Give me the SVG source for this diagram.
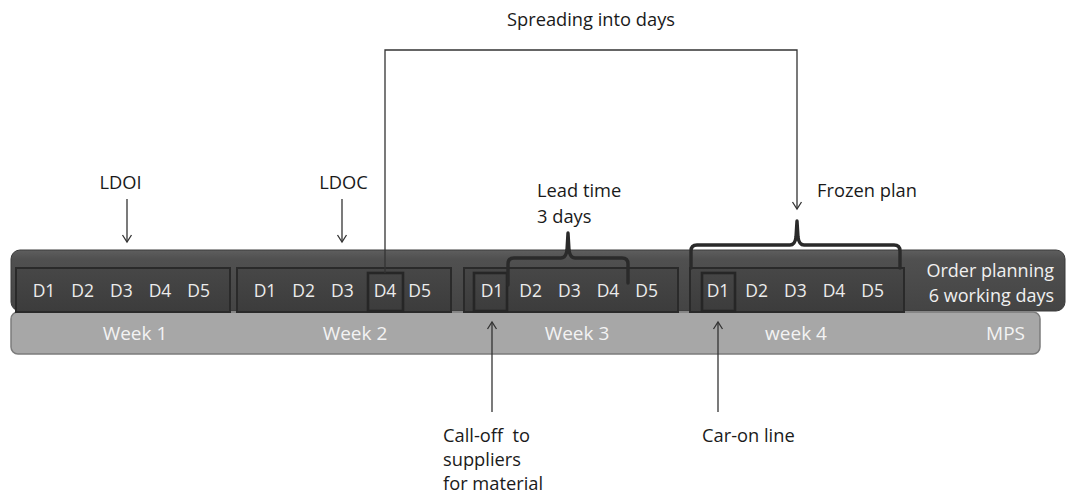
<svg xmlns="http://www.w3.org/2000/svg" width="1066" height="495" viewBox="0 0 1066 495">
  <defs>
    <linearGradient id="bandGrad" x1="0" y1="0" x2="0" y2="1">
      <stop offset="0" stop-color="#5e5e5e"/>
      <stop offset="0.15" stop-color="#505050"/>
      <stop offset="1" stop-color="#444444"/>
    </linearGradient>
    <linearGradient id="weekGrad" x1="0" y1="0" x2="0" y2="1">
      <stop offset="0" stop-color="#474747"/>
      <stop offset="1" stop-color="#3c3c3c"/>
    </linearGradient>
    <marker id="arrow" viewBox="-10 -6 12 12" refX="0" refY="0" markerWidth="12" markerHeight="12" markerUnits="userSpaceOnUse" orient="auto">
      <path d="M-7,-4.5 L0,0 L-7,4.5" fill="none" stroke="#333" stroke-width="1.3"/>
    </marker>
  </defs>
  <style>
    text { font-family: "Open Sans", "Liberation Sans", sans-serif; }
    .lbl { font-size: 18.3px; fill: #1a1a1a; }
    .day { font-size: 17.5px; fill: #ececec; text-anchor: middle; }
    .week { font-size: 19px; fill: #f3f3f3; text-anchor: middle; }
    .side { font-size: 18px; fill: #f0f0f0; text-anchor: end; }
    .wbox { fill: url(#weekGrad); stroke: #2a2a2a; stroke-width: 2; }
    .hl { fill: none; stroke: #262626; stroke-width: 2.6; }
    .brace { fill: none; stroke: #2a2a2a; stroke-width: 3.4; stroke-linejoin: round; stroke-linecap: round; }
    .conn { fill: none; stroke: #333; stroke-width: 1.3; }
  </style>

  <!-- background -->
  <rect width="1066" height="495" fill="#ffffff"/>

  <!-- order planning band -->
  <g id="order-planning">
    <rect x="11" y="250" width="1054" height="61" rx="9" fill="url(#bandGrad)" stroke="#3a3a3a" stroke-width="1"/>
    <text class="side" x="1054" y="277">Order planning</text>
    <text class="side" x="1054" y="302">6 working days</text>
  </g>

  <!-- MPS band -->
  <g id="mps">
    <rect x="11" y="312" width="1029" height="42" rx="7" fill="#a7a7a7" stroke="#7c7c7c" stroke-width="1.5"/>
    <text class="week" x="135" y="340">Week 1</text>
    <text class="week" x="355" y="340">Week 2</text>
    <text class="week" x="577" y="340">Week 3</text>
    <text class="week" x="796" y="340">week 4</text>
    <text class="week" x="1025" y="340" style="text-anchor:end">MPS</text>
  </g>

  <!-- week boxes -->
  <g id="week1">
    <rect class="wbox" x="16" y="268" width="214" height="44"/>
    <text class="day" x="44" y="297">D1</text>
    <text class="day" x="82.7" y="297">D2</text>
    <text class="day" x="121.4" y="297">D3</text>
    <text class="day" x="160" y="297">D4</text>
    <text class="day" x="198.7" y="297">D5</text>
  </g>
  <g id="week2">
    <rect class="wbox" x="237" y="268" width="214" height="44"/>
    <text class="day" x="265" y="297">D1</text>
    <text class="day" x="303.7" y="297">D2</text>
    <text class="day" x="342.4" y="297">D3</text>
    <text class="day" x="385" y="297">D4</text>
    <text class="day" x="419.7" y="297">D5</text>
    <rect class="hl" x="368" y="273" width="35" height="38"/>
  </g>
  <g id="week3">
    <rect class="wbox" x="464" y="268" width="214" height="44"/>
    <text class="day" x="492" y="297">D1</text>
    <text class="day" x="530.7" y="297">D2</text>
    <text class="day" x="569.4" y="297">D3</text>
    <text class="day" x="608" y="297">D4</text>
    <text class="day" x="646.7" y="297">D5</text>
    <rect class="hl" x="474" y="273" width="33" height="38"/>
  </g>
  <g id="week4">
    <rect class="wbox" x="690" y="268" width="214" height="44"/>
    <text class="day" x="718" y="297">D1</text>
    <text class="day" x="756.7" y="297">D2</text>
    <text class="day" x="795.4" y="297">D3</text>
    <text class="day" x="834" y="297">D4</text>
    <text class="day" x="872.7" y="297">D5</text>
    <rect class="hl" x="702" y="273" width="33" height="38"/>
  </g>

  <!-- lead time brace -->
  <g id="lead-time">
    <path class="brace" d="M508,285 L508,264 Q508,258 514,258 L561,258 Q566,258 567,250 L568,233 L569,250 Q570,258 575,258 L622,258 Q628,258 628,264 L628,283"/>
    <text class="lbl" x="537" y="197">Lead time</text>
    <text class="lbl" x="537" y="223">3 days</text>
  </g>

  <!-- frozen plan brace -->
  <g id="frozen-plan">
    <path class="brace" d="M691,268 L691,251 Q691,245 697,245 L790,245 Q795,245 796,237 L797,221 L798,237 Q799,245 804,245 L894,245 Q900,245 900,251 L900,268"/>
    <text class="lbl" x="817" y="197">Frozen plan</text>
  </g>

  <!-- labels -->
  <g id="ldoi"><text class="lbl" x="120.5" y="189" text-anchor="middle">LDOI</text></g>
  <g id="ldoc"><text class="lbl" x="343.5" y="189" text-anchor="middle">LDOC</text></g>
  <g id="spreading"><text class="lbl" x="591" y="26" text-anchor="middle">Spreading into days</text></g>
  <g id="call-off">
    <text class="lbl" x="443" y="442">Call-off&#160; to</text>
    <text class="lbl" x="443" y="466">suppliers</text>
    <text class="lbl" x="443" y="490">for material</text>
  </g>
  <g id="car-on"><text class="lbl" x="702" y="442">Car-on line</text></g>

  <!-- connectors -->
  <g id="connectors">
    <line class="conn" x1="127" y1="199" x2="127" y2="242" marker-end="url(#arrow)"/>
    <line class="conn" x1="342" y1="199" x2="342" y2="242" marker-end="url(#arrow)"/>
    <polyline class="conn" points="385,273 385,50 797,50 797,209" marker-end="url(#arrow)"/>
    <line class="conn" x1="492" y1="412" x2="492" y2="322" marker-end="url(#arrow)"/>
    <line class="conn" x1="718" y1="412" x2="718" y2="322" marker-end="url(#arrow)"/>
  </g>
</svg>
